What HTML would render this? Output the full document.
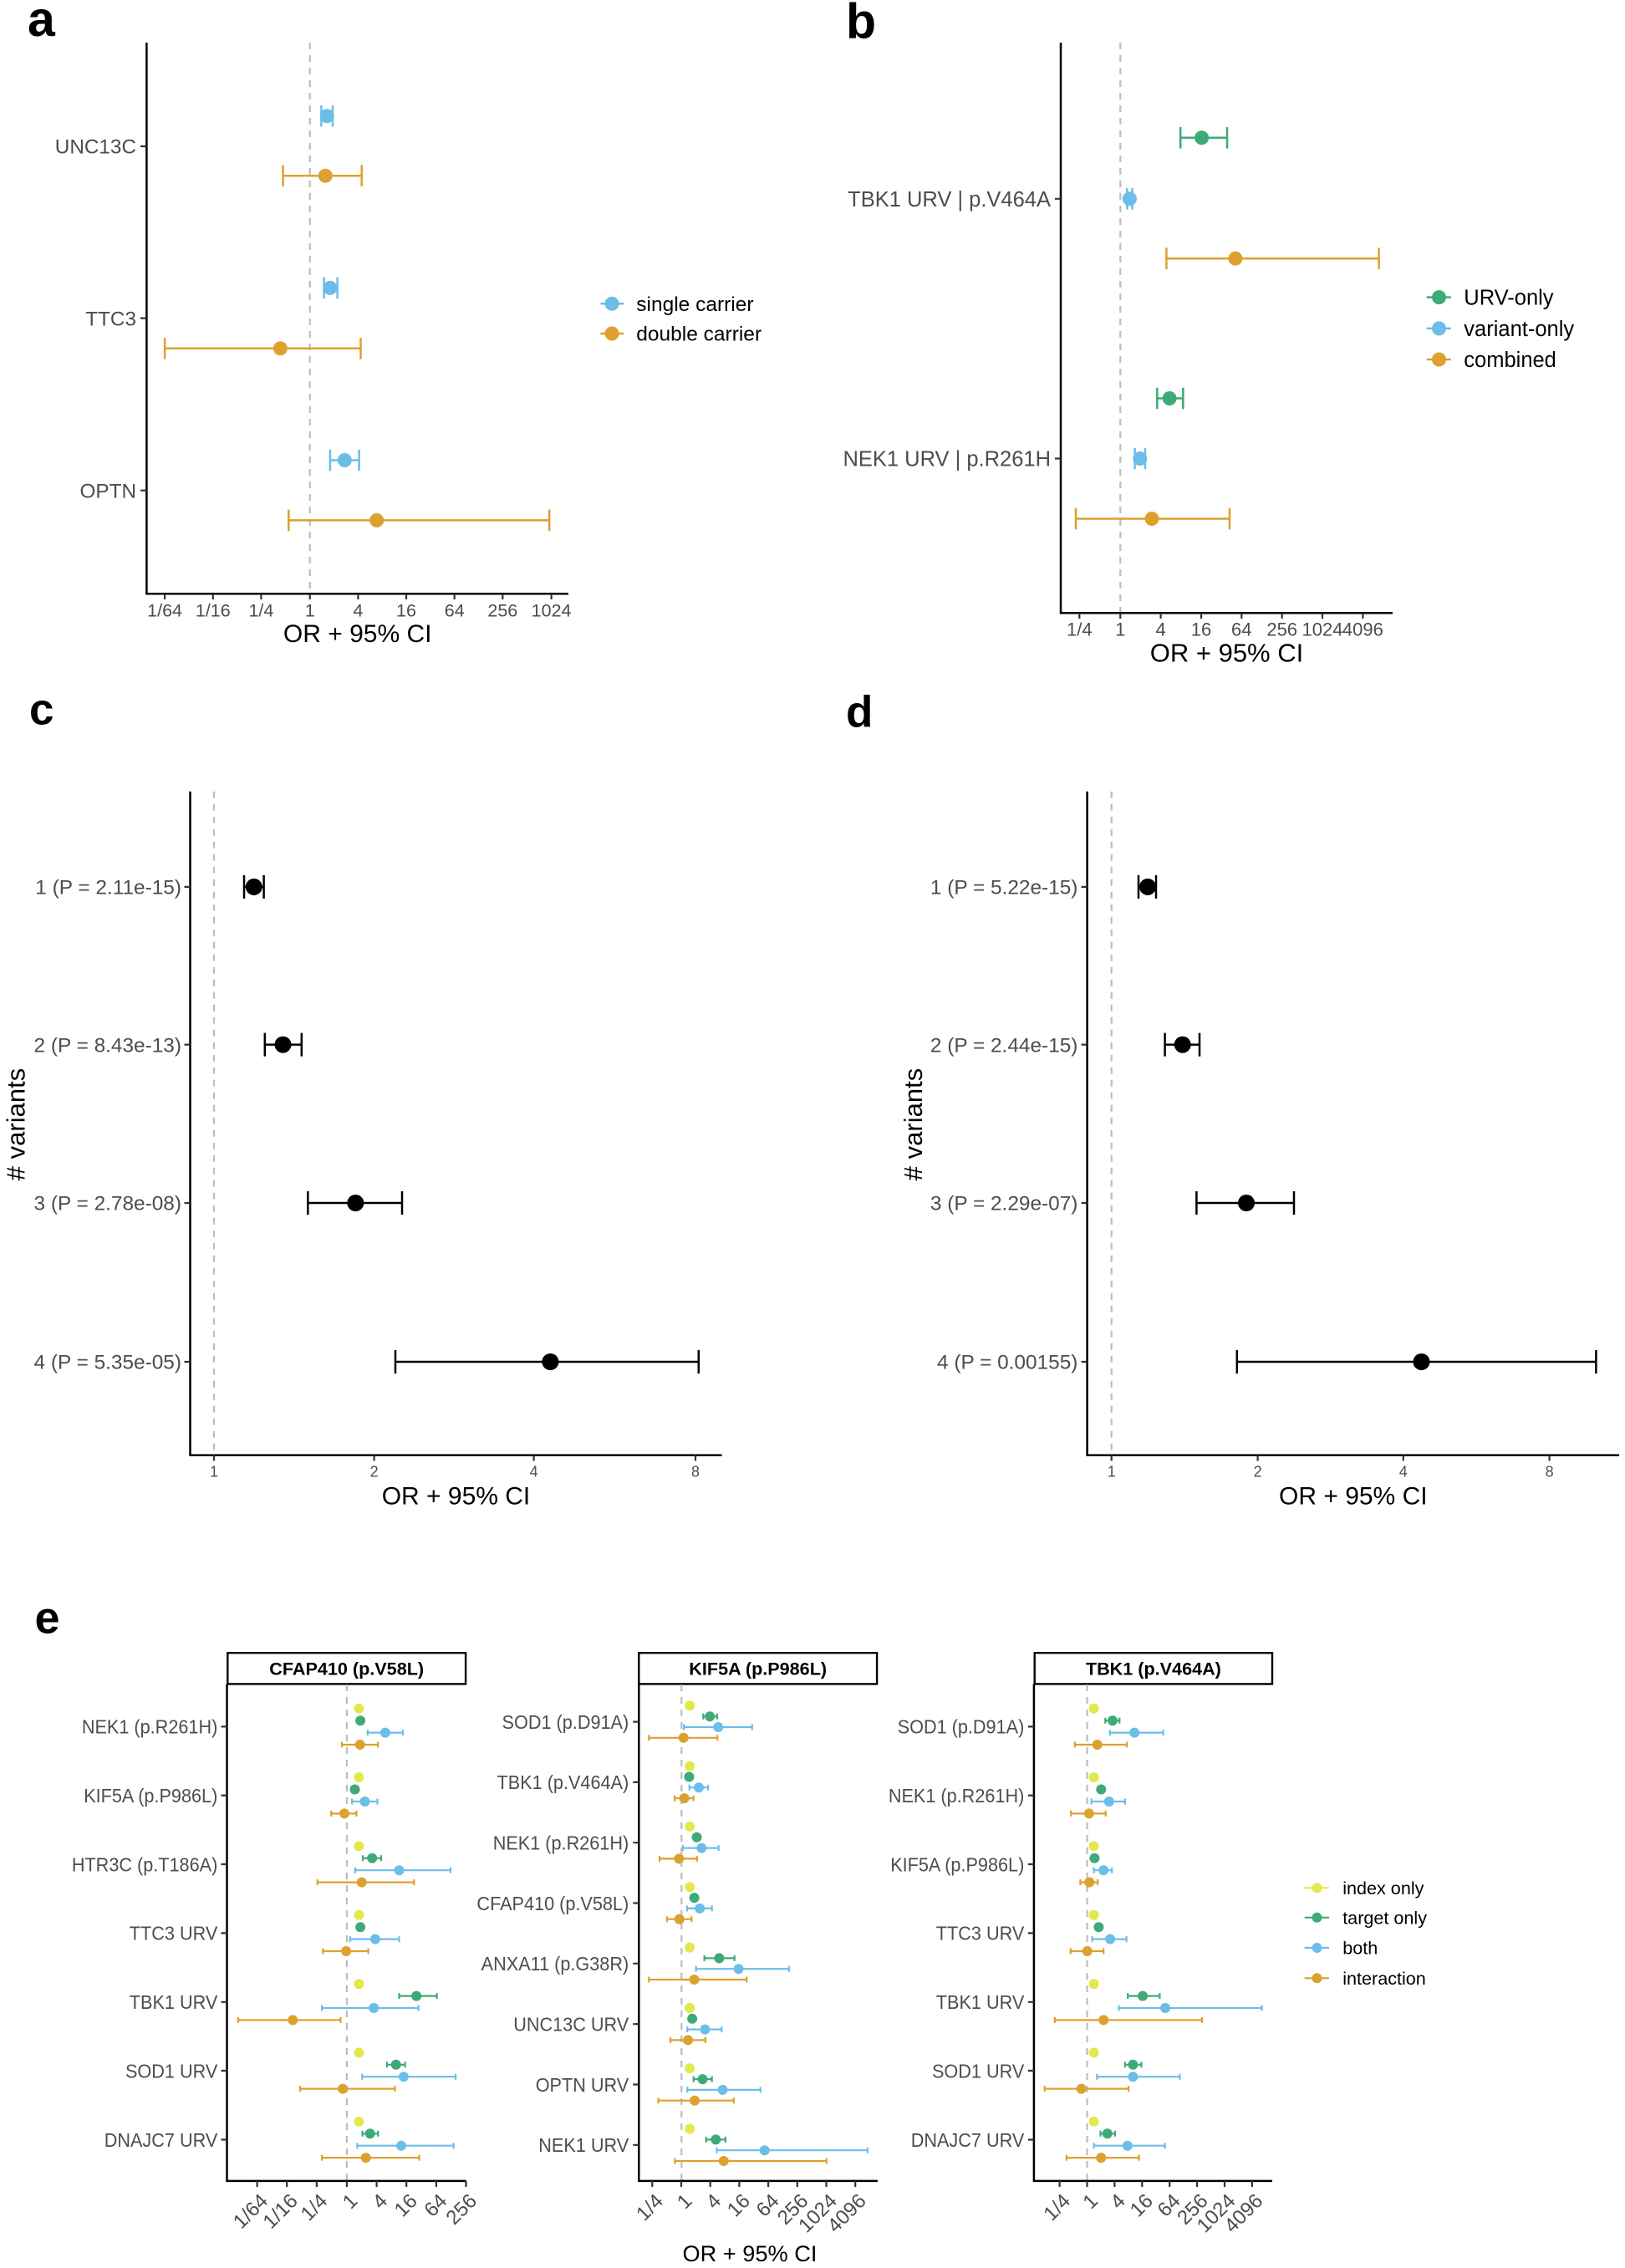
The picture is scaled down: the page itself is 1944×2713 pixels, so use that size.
<!DOCTYPE html>
<html>
<head>
<meta charset="utf-8">
<style>
html,body{margin:0;padding:0;background:#fff;}
svg{display:block;}
text{font-family:"Liberation Sans",Arial,Helvetica,sans-serif;}
.lab{fill:#4d4d4d;}
.ttl{fill:#000;}
.pl{font-weight:bold;fill:#000;}
.ax{stroke:#000;stroke-width:2.5;fill:none;}
.tk{stroke:#333;stroke-width:2.2;fill:none;}
.dash{stroke:#bdbdbd;stroke-width:2.2;stroke-dasharray:8 7;fill:none;}
.bl{stroke:#6CBDE8;fill:none;}
.or{stroke:#DCA12E;fill:none;}
.gr{stroke:#3DAA78;fill:none;}
.ye{stroke:#E3E84E;fill:none;}
.bk{stroke:#000;fill:none;}
</style>
</head>
<body>
<svg width="1944" height="2713" viewBox="0 0 1944 2713" xmlns="http://www.w3.org/2000/svg">
<rect x="0" y="0" width="1944" height="2713" fill="#fff"/>

<!-- ================= PANEL A ================= -->
<text class="pl" x="33" y="43" font-size="59">a</text>
<line class="dash" x1="370.7" y1="51" x2="370.7" y2="710"/>
<g stroke-width="2.5">
<path class="bl" d="M384.4 138.8H398M384.4 126V151.6M398 126V151.6"/>
<path class="or" d="M338.5 210.2H432.7M338.5 197.4V223M432.7 197.4V223"/>
<path class="bl" d="M387.5 344.4H403.6M387.5 331.6V357.2M403.6 331.6V357.2"/>
<path class="or" d="M197.1 416.8H431.5M197.1 404V429.6M431.5 404V429.6"/>
<path class="bl" d="M394.9 550.5H429.6M394.9 537.7V563.3M429.6 537.7V563.3"/>
<path class="or" d="M345.3 622.4H657.1M345.3 609.6V635.2M657.1 609.6V635.2"/>
</g>
<g>
<circle cx="391.2" cy="138.8" r="8.5" fill="#6CBDE8"/>
<circle cx="389.3" cy="210.2" r="8.5" fill="#DCA12E"/>
<circle cx="394.9" cy="344.4" r="8.5" fill="#6CBDE8"/>
<circle cx="335.4" cy="416.8" r="8.5" fill="#DCA12E"/>
<circle cx="412.3" cy="550.5" r="8.5" fill="#6CBDE8"/>
<circle cx="450.7" cy="622.4" r="8.5" fill="#DCA12E"/>
</g>
<path class="ax" d="M175.4 51V711.4M174.2 710.2H680"/>
<path class="tk" d="M168 175H175.4M168 380.6H175.4M168 586.7H175.4"/>
<path class="tk" d="M197.1 710.2V717M254.8 710.2V717M312.4 710.2V717M370.7 710.2V717M428.4 710.2V717M486 710.2V717M543.7 710.2V717M601.3 710.2V717M659.6 710.2V717"/>
<g class="lab" font-size="24.3" text-anchor="end">
<text x="163" y="183.7">UNC13C</text>
<text x="163" y="389.3">TTC3</text>
<text x="163" y="595.4">OPTN</text>
</g>
<g class="lab" font-size="21.5" text-anchor="middle">
<text x="197.1" y="737.5">1/64</text>
<text x="254.8" y="737.5">1/16</text>
<text x="312.4" y="737.5">1/4</text>
<text x="370.7" y="737.5">1</text>
<text x="428.4" y="737.5">4</text>
<text x="486" y="737.5">16</text>
<text x="543.7" y="737.5">64</text>
<text x="601.3" y="737.5">256</text>
<text x="659.6" y="737.5">1024</text>
</g>
<text class="ttl" x="427.7" y="768" font-size="30" text-anchor="middle">OR + 95% CI</text>
<!-- legend a -->
<path class="bl" stroke-width="2.5" d="M718.5 363.3H746.4"/>
<circle cx="732" cy="363.3" r="8.5" fill="#6CBDE8"/>
<path class="or" stroke-width="2.5" d="M718.5 399H746.4"/>
<circle cx="732" cy="399" r="8.5" fill="#DCA12E"/>
<text class="ttl" x="761.3" y="371.8" font-size="24.5">single carrier</text>
<text class="ttl" x="761.3" y="407.5" font-size="24.5">double carrier</text>

<!-- ================= PANEL B ================= -->
<text class="pl" x="1012" y="45.5" font-size="59">b</text>
<line class="dash" x1="1340.3" y1="51" x2="1340.3" y2="733"/>
<g stroke-width="2.5">
<path class="gr" d="M1412.2 164.8H1468M1412.2 152V177.6M1468 152V177.6"/>
<path class="bl" d="M1348.3 237.8H1354.5M1348.3 225V250.6M1354.5 225V250.6"/>
<path class="or" d="M1395.4 309.2H1649.6M1395.4 296.4V322M1649.6 296.4V322"/>
<path class="gr" d="M1384.3 476.5H1415.3M1384.3 463.7V489.3M1415.3 463.7V489.3"/>
<path class="bl" d="M1357.6 548.5H1370M1357.6 535.7V561.3M1370 535.7V561.3"/>
<path class="or" d="M1287 620.5H1471M1287 607.7V633.3M1471 607.7V633.3"/>
</g>
<circle cx="1437.6" cy="164.8" r="8.5" fill="#3DAA78"/>
<circle cx="1351.4" cy="237.8" r="8.5" fill="#6CBDE8"/>
<circle cx="1477.9" cy="309.2" r="8.5" fill="#DCA12E"/>
<circle cx="1399.1" cy="476.5" r="8.5" fill="#3DAA78"/>
<circle cx="1363.8" cy="548.5" r="8.5" fill="#6CBDE8"/>
<circle cx="1378" cy="620.5" r="8.5" fill="#DCA12E"/>
<path class="ax" d="M1269 51V734.4M1267.8 733.2H1666"/>
<path class="tk" d="M1262 237.8H1269M1262 548.5H1269"/>
<path class="tk" d="M1291.3 733.2V740M1340.3 733.2V740M1388.6 733.2V740M1437 733.2V740M1485.3 733.2V740M1533.7 733.2V740M1582 733.2V740M1630.4 733.2V740"/>
<g class="lab" font-size="25.5" text-anchor="end">
<text x="1257" y="246.9">TBK1 URV | p.V464A</text>
<text x="1257" y="557.6">NEK1 URV | p.R261H</text>
</g>
<g class="lab" font-size="22" text-anchor="middle">
<text x="1291.3" y="760.5">1/4</text>
<text x="1340.3" y="760.5">1</text>
<text x="1388.6" y="760.5">4</text>
<text x="1437" y="760.5">16</text>
<text x="1485.3" y="760.5">64</text>
<text x="1533.7" y="760.5">256</text>
<text x="1582" y="760.5">1024</text>
<text x="1630.4" y="760.5">4096</text>
</g>
<text class="ttl" x="1467.5" y="791.5" font-size="31" text-anchor="middle">OR + 95% CI</text>
<!-- legend b -->
<path class="gr" stroke-width="2.5" d="M1706.7 355.6H1735.8"/>
<circle cx="1721.5" cy="355.6" r="8.5" fill="#3DAA78"/>
<path class="bl" stroke-width="2.5" d="M1706.7 392.9H1735.8"/>
<circle cx="1721.5" cy="392.9" r="8.5" fill="#6CBDE8"/>
<path class="or" stroke-width="2.5" d="M1706.7 430H1735.8"/>
<circle cx="1721.5" cy="430" r="8.5" fill="#DCA12E"/>
<g class="ttl" font-size="25.5">
<text x="1751.3" y="364.6">URV-only</text>
<text x="1751.3" y="401.9">variant-only</text>
<text x="1751.3" y="439">combined</text>
</g>

<!-- ================= PANEL C ================= -->
<text class="pl" x="35" y="866.5" font-size="53">c</text>
<line class="dash" x1="256" y1="946.7" x2="256" y2="1740"/>
<g stroke-width="2.5">
<path class="bk" d="M292 1060.9H315.6M292 1046.9V1074.9M315.6 1046.9V1074.9"/>
<path class="bk" d="M316.8 1249.6H360.8M316.8 1235.6V1263.6M360.8 1235.6V1263.6"/>
<path class="bk" d="M368.3 1439H481M368.3 1425V1453M481 1425V1453"/>
<path class="bk" d="M473 1629H835.8M473 1615V1643M835.8 1615V1643"/>
</g>
<circle cx="303.8" cy="1060.9" r="10" fill="#000"/>
<circle cx="338.5" cy="1249.6" r="10" fill="#000"/>
<circle cx="425.3" cy="1439" r="10" fill="#000"/>
<circle cx="658.4" cy="1629" r="10" fill="#000"/>
<path class="ax" d="M227.5 946.7V1742M226.3 1740.7H863.6"/>
<path class="tk" d="M220.5 1060.9H227.5M220.5 1249.6H227.5M220.5 1439H227.5M220.5 1629H227.5"/>
<path class="tk" d="M256 1740.7V1747.5M447.6 1740.7V1747.5M638.6 1740.7V1747.5M832 1740.7V1747.5"/>
<g class="lab" font-size="24.4" text-anchor="end">
<text x="217" y="1069.6">1 (P = 2.11e-15)</text>
<text x="217" y="1258.3">2 (P = 8.43e-13)</text>
<text x="217" y="1447.7">3 (P = 2.78e-08)</text>
<text x="217" y="1637.7">4 (P = 5.35e-05)</text>
</g>
<g class="lab" font-size="18" text-anchor="middle">
<text x="256" y="1766.5">1</text>
<text x="447.6" y="1766.5">2</text>
<text x="638.6" y="1766.5">4</text>
<text x="832" y="1766.5">8</text>
</g>
<text class="ttl" x="545.5" y="1799.3" font-size="30" text-anchor="middle">OR + 95% CI</text>
<text class="ttl" transform="translate(29.5,1345) rotate(-90)" font-size="31" text-anchor="middle"># variants</text>

<!-- ================= PANEL D ================= -->
<text class="pl" x="1012" y="869.5" font-size="53">d</text>
<line class="dash" x1="1329.7" y1="946.7" x2="1329.7" y2="1740"/>
<g stroke-width="2.5">
<path class="bk" d="M1362 1060.9H1383M1362 1046.9V1074.9M1383 1046.9V1074.9"/>
<path class="bk" d="M1393.6 1249.6H1435M1393.6 1235.6V1263.6M1435 1235.6V1263.6"/>
<path class="bk" d="M1431.4 1439H1548M1431.4 1425V1453M1548 1425V1453"/>
<path class="bk" d="M1479.8 1629H1909.4M1479.8 1615V1643M1909.4 1615V1643"/>
</g>
<circle cx="1373" cy="1060.9" r="10" fill="#000"/>
<circle cx="1414.7" cy="1249.6" r="10" fill="#000"/>
<circle cx="1491" cy="1439" r="10" fill="#000"/>
<circle cx="1700.5" cy="1629" r="10" fill="#000"/>
<path class="ax" d="M1300.6 946.7V1742M1299.4 1740.7H1937"/>
<path class="tk" d="M1293.6 1060.9H1300.6M1293.6 1249.6H1300.6M1293.6 1439H1300.6M1293.6 1629H1300.6"/>
<path class="tk" d="M1329.7 1740.7V1747.5M1504.6 1740.7V1747.5M1678.8 1740.7V1747.5M1853.6 1740.7V1747.5"/>
<g class="lab" font-size="24.4" text-anchor="end">
<text x="1289.4" y="1069.6">1 (P = 5.22e-15)</text>
<text x="1289.4" y="1258.3">2 (P = 2.44e-15)</text>
<text x="1289.4" y="1447.7">3 (P = 2.29e-07)</text>
<text x="1289.4" y="1637.7">4 (P = 0.00155)</text>
</g>
<g class="lab" font-size="18" text-anchor="middle">
<text x="1329.7" y="1766.5">1</text>
<text x="1504.6" y="1766.5">2</text>
<text x="1678.8" y="1766.5">4</text>
<text x="1853.6" y="1766.5">8</text>
</g>
<text class="ttl" x="1618.8" y="1799.3" font-size="30" text-anchor="middle">OR + 95% CI</text>
<text class="ttl" transform="translate(1103,1345) rotate(-90)" font-size="31" text-anchor="middle"># variants</text>

<!-- ================= PANEL E ================= -->
<text class="pl" x="41.5" y="1953.5" font-size="54">e</text>

<!-- strips -->
<rect x="272.3" y="1977.2" width="284.8" height="37.2" fill="#fff" stroke="#000" stroke-width="2.4"/>
<rect x="764.3" y="1977.2" width="284.8" height="37.2" fill="#fff" stroke="#000" stroke-width="2.4"/>
<rect x="1237.7" y="1977.2" width="284.3" height="37.2" fill="#fff" stroke="#000" stroke-width="2.4"/>
<g class="ttl" font-size="21.6" font-weight="bold" text-anchor="middle">
<text x="414.7" y="2003.5">CFAP410 (p.V58L)</text>
<text x="906.7" y="2003.5">KIF5A (p.P986L)</text>
<text x="1379.9" y="2003.5">TBK1 (p.V464A)</text>
</g>

<!-- dashed -->
<line class="dash" x1="414.9" y1="2015" x2="414.9" y2="2608"/>
<line class="dash" x1="815.3" y1="2015" x2="815.3" y2="2608"/>
<line class="dash" x1="1300.6" y1="2015" x2="1300.6" y2="2608"/>

<!-- facet 1 data -->
<g stroke-width="2.2">
<path class="gr" d="M426 2058.2H436"/>
<path class="bl" d="M439.8 2072.6H482M439.8 2069.1V2076.1M482 2069.1V2076.1"/>
<path class="or" d="M409.1 2087H452.2M409.1 2083.5V2090.5M452.2 2083.5V2090.5"/>
<path class="bl" d="M421.1 2154.95H451.4M421.1 2151.45V2158.45M451.4 2151.45V2158.45"/>
<path class="or" d="M396.3 2169.35H426.5M396.3 2165.85V2172.85M426.5 2165.85V2172.85"/>
<path class="gr" d="M434 2222.8H456M434 2219.3V2226.3M456 2219.3V2226.3"/>
<path class="bl" d="M424.9 2237.2H538.9M424.9 2233.7V2240.7M538.9 2233.7V2240.7"/>
<path class="or" d="M379.7 2251.6H495.3M379.7 2248.1V2255.1M495.3 2248.1V2255.1"/>
<path class="bl" d="M418.7 2319.6H477.5M418.7 2316.1V2323.1M477.5 2316.1V2323.1"/>
<path class="or" d="M386.3 2334H440.6M386.3 2330.5V2337.5M440.6 2330.5V2337.5"/>
<path class="gr" d="M477.5 2387.6H522.7M477.5 2384.1V2391.1M522.7 2384.1V2391.1"/>
<path class="bl" d="M385.1 2402H500.7M385.1 2398.5V2405.5M500.7 2398.5V2405.5"/>
<path class="or" d="M284.8 2416.4H407.5M284.8 2412.9V2419.9M407.5 2412.9V2419.9"/>
<path class="gr" d="M463 2469.8H484.6M463 2466.3V2473.3M484.6 2466.3V2473.3"/>
<path class="bl" d="M433.2 2484.2H545.1M433.2 2480.7V2487.7M545.1 2480.7V2487.7"/>
<path class="or" d="M359 2498.6H472.5M359 2495.1V2502.1M472.5 2495.1V2502.1"/>
<path class="gr" d="M433.6 2552.3H452.2M433.6 2548.8V2555.8M452.2 2548.8V2555.8"/>
<path class="bl" d="M427.4 2566.7H542.6M427.4 2563.2V2570.2M542.6 2563.2V2570.2"/>
<path class="or" d="M385.1 2581.1H501.6M385.1 2577.6V2584.6M501.6 2577.6V2584.6"/>
</g>
<g>
<circle cx="429.4" cy="2043.8" r="6" fill="#E3E84E"/>
<circle cx="431.1" cy="2058.2" r="6" fill="#3DAA78"/>
<circle cx="460.9" cy="2072.6" r="6" fill="#6CBDE8"/>
<circle cx="430.7" cy="2087" r="6" fill="#DCA12E"/>
<circle cx="429.4" cy="2126.15" r="6" fill="#E3E84E"/>
<circle cx="424.5" cy="2140.55" r="6" fill="#3DAA78"/>
<circle cx="436.5" cy="2154.95" r="6" fill="#6CBDE8"/>
<circle cx="412" cy="2169.35" r="6" fill="#DCA12E"/>
<circle cx="429.4" cy="2208.4" r="6" fill="#E3E84E"/>
<circle cx="445.2" cy="2222.8" r="6" fill="#3DAA78"/>
<circle cx="477.5" cy="2237.2" r="6" fill="#6CBDE8"/>
<circle cx="432.7" cy="2251.6" r="6" fill="#DCA12E"/>
<circle cx="429.4" cy="2290.8" r="6" fill="#E3E84E"/>
<circle cx="431.1" cy="2305.2" r="6" fill="#3DAA78"/>
<circle cx="448.9" cy="2319.6" r="6" fill="#6CBDE8"/>
<circle cx="414.1" cy="2334" r="6" fill="#DCA12E"/>
<circle cx="429.4" cy="2373.2" r="6" fill="#E3E84E"/>
<circle cx="498.2" cy="2387.6" r="6" fill="#3DAA78"/>
<circle cx="447.2" cy="2402" r="6" fill="#6CBDE8"/>
<circle cx="350.3" cy="2416.4" r="6" fill="#DCA12E"/>
<circle cx="429.4" cy="2455.4" r="6" fill="#E3E84E"/>
<circle cx="473.8" cy="2469.8" r="6" fill="#3DAA78"/>
<circle cx="482.9" cy="2484.2" r="6" fill="#6CBDE8"/>
<circle cx="410" cy="2498.6" r="6" fill="#DCA12E"/>
<circle cx="429.4" cy="2537.9" r="6" fill="#E3E84E"/>
<circle cx="442.7" cy="2552.3" r="6" fill="#3DAA78"/>
<circle cx="480" cy="2566.7" r="6" fill="#6CBDE8"/>
<circle cx="437.7" cy="2581.1" r="6" fill="#DCA12E"/>
</g>

<!-- facet 2 data -->
<g stroke-width="2.2">
<path class="gr" d="M841.3 2053.2H857.9M841.3 2049.7V2056.7M857.9 2049.7V2056.7"/>
<path class="bl" d="M818.1 2066H899.8M818.1 2062.5V2069.5M899.8 2062.5V2069.5"/>
<path class="or" d="M776.3 2078.8H858.3M776.3 2075.3V2082.3M858.3 2075.3V2082.3"/>
<path class="bl" d="M824.8 2138.3H847.1M824.8 2134.8V2141.8M847.1 2134.8V2141.8"/>
<path class="or" d="M807 2151.1H829.7M807 2147.6V2154.6M829.7 2147.6V2154.6"/>
<path class="bl" d="M816.9 2210.6H859.6M816.9 2207.1V2214.1M859.6 2207.1V2214.1"/>
<path class="or" d="M789.1 2223.4H833.9M789.1 2219.9V2226.9M833.9 2219.9V2226.9"/>
<path class="bl" d="M821.9 2282.9H851.7M821.9 2279.4V2286.4M851.7 2279.4V2286.4"/>
<path class="or" d="M797.8 2295.7H827.3M797.8 2292.2V2299.2M827.3 2292.2V2299.2"/>
<path class="gr" d="M842.6 2342.4H878.7M842.6 2338.9V2345.9M878.7 2338.9V2345.9"/>
<path class="bl" d="M832.6 2355.2H944.1M832.6 2351.7V2358.7M944.1 2351.7V2358.7"/>
<path class="or" d="M776.3 2368H893.2M776.3 2364.5V2371.5M893.2 2364.5V2371.5"/>
<path class="bl" d="M822.3 2427.6H863.3M822.3 2424.1V2431.1M863.3 2424.1V2431.1"/>
<path class="or" d="M802 2440.4H843.8M802 2436.9V2443.9M843.8 2436.9V2443.9"/>
<path class="gr" d="M829.7 2487.1H851.7M829.7 2483.6V2490.6M851.7 2483.6V2490.6"/>
<path class="bl" d="M822.3 2499.9H909.7M822.3 2496.4V2503.4M909.7 2496.4V2503.4"/>
<path class="or" d="M787.5 2512.7H877.8M787.5 2509.2V2516.2M877.8 2509.2V2516.2"/>
<path class="gr" d="M844.7 2559.4H867.9M844.7 2555.9V2562.9M867.9 2555.9V2562.9"/>
<path class="bl" d="M857.5 2572.2H1037.8M857.5 2568.7V2575.7M1037.8 2568.7V2575.7"/>
<path class="or" d="M807.4 2585H988.9M807.4 2581.5V2588.5M988.9 2581.5V2588.5"/>
</g>
<g>
<circle cx="825.2" cy="2040.4" r="6" fill="#E3E84E"/>
<circle cx="849.2" cy="2053.2" r="6" fill="#3DAA78"/>
<circle cx="859.2" cy="2066" r="6" fill="#6CBDE8"/>
<circle cx="817.7" cy="2078.8" r="6" fill="#DCA12E"/>
<circle cx="825.2" cy="2112.7" r="6" fill="#E3E84E"/>
<circle cx="824.4" cy="2125.5" r="6" fill="#3DAA78"/>
<circle cx="836" cy="2138.3" r="6" fill="#6CBDE8"/>
<circle cx="818.6" cy="2151.1" r="6" fill="#DCA12E"/>
<circle cx="825.2" cy="2185" r="6" fill="#E3E84E"/>
<circle cx="833.5" cy="2197.8" r="6" fill="#3DAA78"/>
<circle cx="839.3" cy="2210.6" r="6" fill="#6CBDE8"/>
<circle cx="812.3" cy="2223.4" r="6" fill="#DCA12E"/>
<circle cx="825.2" cy="2257.3" r="6" fill="#E3E84E"/>
<circle cx="830.6" cy="2270.1" r="6" fill="#3DAA78"/>
<circle cx="837.2" cy="2282.9" r="6" fill="#6CBDE8"/>
<circle cx="812.7" cy="2295.7" r="6" fill="#DCA12E"/>
<circle cx="825.2" cy="2329.6" r="6" fill="#E3E84E"/>
<circle cx="860.4" cy="2342.4" r="6" fill="#3DAA78"/>
<circle cx="883.6" cy="2355.2" r="6" fill="#6CBDE8"/>
<circle cx="830.6" cy="2368" r="6" fill="#DCA12E"/>
<circle cx="825.2" cy="2402" r="6" fill="#E3E84E"/>
<circle cx="828.1" cy="2414.8" r="6" fill="#3DAA78"/>
<circle cx="843.4" cy="2427.6" r="6" fill="#6CBDE8"/>
<circle cx="823.1" cy="2440.4" r="6" fill="#DCA12E"/>
<circle cx="825.2" cy="2474.3" r="6" fill="#E3E84E"/>
<circle cx="840.5" cy="2487.1" r="6" fill="#3DAA78"/>
<circle cx="864.6" cy="2499.9" r="6" fill="#6CBDE8"/>
<circle cx="831" cy="2512.7" r="6" fill="#DCA12E"/>
<circle cx="825.2" cy="2546.6" r="6" fill="#E3E84E"/>
<circle cx="856.3" cy="2559.4" r="6" fill="#3DAA78"/>
<circle cx="914.7" cy="2572.2" r="6" fill="#6CBDE8"/>
<circle cx="865.8" cy="2585" r="6" fill="#DCA12E"/>
</g>

<!-- facet 3 data -->
<g stroke-width="2.2">
<path class="gr" d="M1322.3 2058.2H1339.3M1322.3 2054.7V2061.7M1339.3 2054.7V2061.7"/>
<path class="bl" d="M1327.7 2072.6H1391.5M1327.7 2069.1V2076.1M1391.5 2069.1V2076.1"/>
<path class="or" d="M1285.8 2087H1348M1285.8 2083.5V2090.5M1348 2083.5V2090.5"/>
<path class="bl" d="M1305.7 2154.95H1345.9M1305.7 2151.45V2158.45M1345.9 2151.45V2158.45"/>
<path class="or" d="M1281.2 2169.35H1322.7M1281.2 2165.85V2172.85M1322.7 2165.85V2172.85"/>
<path class="bl" d="M1308.6 2237.2H1330.2M1308.6 2233.7V2240.7M1330.2 2233.7V2240.7"/>
<path class="or" d="M1292.4 2251.6H1313.2M1292.4 2248.1V2255.1M1313.2 2248.1V2255.1"/>
<path class="bl" d="M1306.5 2319.6H1347.6M1306.5 2316.1V2323.1M1347.6 2316.1V2323.1"/>
<path class="or" d="M1280.8 2334H1320.2M1280.8 2330.5V2337.5M1320.2 2330.5V2337.5"/>
<path class="gr" d="M1349.2 2387.6H1387.4M1349.2 2384.1V2391.1M1387.4 2384.1V2391.1"/>
<path class="bl" d="M1338.4 2402H1509.6M1338.4 2398.5V2405.5M1509.6 2398.5V2405.5"/>
<path class="or" d="M1261.8 2416.4H1437.9M1261.8 2412.9V2419.9M1437.9 2412.9V2419.9"/>
<path class="gr" d="M1345.9 2469.8H1365.4M1345.9 2466.3V2473.3M1365.4 2466.3V2473.3"/>
<path class="bl" d="M1312.3 2484.2H1411.4M1312.3 2480.7V2487.7M1411.4 2480.7V2487.7"/>
<path class="or" d="M1249.7 2498.6H1350.1M1249.7 2495.1V2502.1M1350.1 2495.1V2502.1"/>
<path class="gr" d="M1316.5 2552.3H1333.9M1316.5 2548.8V2555.8M1333.9 2548.8V2555.8"/>
<path class="bl" d="M1308.6 2566.7H1393.6M1308.6 2563.2V2570.2M1393.6 2563.2V2570.2"/>
<path class="or" d="M1275.9 2581.1H1362.5M1275.9 2577.6V2584.6M1362.5 2577.6V2584.6"/>
</g>
<g>
<circle cx="1308.6" cy="2043.8" r="6" fill="#E3E84E"/>
<circle cx="1331" cy="2058.2" r="6" fill="#3DAA78"/>
<circle cx="1357.1" cy="2072.6" r="6" fill="#6CBDE8"/>
<circle cx="1312.7" cy="2087" r="6" fill="#DCA12E"/>
<circle cx="1308.6" cy="2126.15" r="6" fill="#E3E84E"/>
<circle cx="1317.3" cy="2140.55" r="6" fill="#3DAA78"/>
<circle cx="1326.8" cy="2154.95" r="6" fill="#6CBDE8"/>
<circle cx="1302.8" cy="2169.35" r="6" fill="#DCA12E"/>
<circle cx="1308.6" cy="2208.4" r="6" fill="#E3E84E"/>
<circle cx="1309.4" cy="2222.8" r="6" fill="#3DAA78"/>
<circle cx="1320.2" cy="2237.2" r="6" fill="#6CBDE8"/>
<circle cx="1303.2" cy="2251.6" r="6" fill="#DCA12E"/>
<circle cx="1308.6" cy="2290.8" r="6" fill="#E3E84E"/>
<circle cx="1314.4" cy="2305.2" r="6" fill="#3DAA78"/>
<circle cx="1328.1" cy="2319.6" r="6" fill="#6CBDE8"/>
<circle cx="1300.7" cy="2334" r="6" fill="#DCA12E"/>
<circle cx="1308.6" cy="2373.2" r="6" fill="#E3E84E"/>
<circle cx="1367" cy="2387.6" r="6" fill="#3DAA78"/>
<circle cx="1394" cy="2402" r="6" fill="#6CBDE8"/>
<circle cx="1320.2" cy="2416.4" r="6" fill="#DCA12E"/>
<circle cx="1308.6" cy="2455.4" r="6" fill="#E3E84E"/>
<circle cx="1355.4" cy="2469.8" r="6" fill="#3DAA78"/>
<circle cx="1355.4" cy="2484.2" r="6" fill="#6CBDE8"/>
<circle cx="1293.7" cy="2498.6" r="6" fill="#DCA12E"/>
<circle cx="1308.6" cy="2537.9" r="6" fill="#E3E84E"/>
<circle cx="1324.8" cy="2552.3" r="6" fill="#3DAA78"/>
<circle cx="1348.8" cy="2566.7" r="6" fill="#6CBDE8"/>
<circle cx="1317.3" cy="2581.1" r="6" fill="#DCA12E"/>
</g>

<!-- facet axes -->
<path class="ax" d="M271.5 2014.4V2610.1M270.3 2608.9H557.5"/>
<path class="ax" d="M764.3 2014.4V2610.1M763.1 2608.9H1049.9"/>
<path class="ax" d="M1236.9 2014.4V2610.1M1235.7 2608.9H1522"/>
<path class="tk" d="M264.5 2065.4H271.5M264.5 2147.75H271.5M264.5 2230H271.5M264.5 2312.4H271.5M264.5 2394.8H271.5M264.5 2477H271.5M264.5 2559.5H271.5"/>
<path class="tk" d="M757.3 2059.6H764.3M757.3 2131.9H764.3M757.3 2204.2H764.3M757.3 2276.5H764.3M757.3 2348.8H764.3M757.3 2421.2H764.3M757.3 2493.5H764.3M757.3 2565.8H764.3"/>
<path class="tk" d="M1229.9 2065.4H1236.9M1229.9 2147.75H1236.9M1229.9 2230H1236.9M1229.9 2312.4H1236.9M1229.9 2394.8H1236.9M1229.9 2477H1236.9M1229.9 2559.5H1236.9"/>
<path class="tk" d="M307.6 2608.9V2616M343.2 2608.9V2616M378.9 2608.9V2616M414.9 2608.9V2616M450.6 2608.9V2616M486.2 2608.9V2616M521.9 2608.9V2616M557.5 2608.9V2616"/>
<path class="tk" d="M780.3 2608.9V2616M815 2608.9V2616M849.7 2608.9V2616M884.4 2608.9V2616M919.1 2608.9V2616M953.8 2608.9V2616M988.5 2608.9V2616M1023.2 2608.9V2616"/>
<path class="tk" d="M1267.6 2608.9V2616M1300.5 2608.9V2616M1333.4 2608.9V2616M1366.3 2608.9V2616M1399.2 2608.9V2616M1432.1 2608.9V2616M1465 2608.9V2616M1497.9 2608.9V2616"/>

<!-- facet y labels -->
<g class="lab" font-size="23.3" text-anchor="end">
<text transform="translate(260.3,2073.7) scale(0.93,1)">NEK1 (p.R261H)</text>
<text transform="translate(260.3,2156.05) scale(0.93,1)">KIF5A (p.P986L)</text>
<text transform="translate(260.3,2238.3) scale(0.93,1)">HTR3C (p.T186A)</text>
<text transform="translate(260.3,2320.7) scale(0.93,1)">TTC3 URV</text>
<text transform="translate(260.3,2403.1) scale(0.93,1)">TBK1 URV</text>
<text transform="translate(260.3,2485.3) scale(0.93,1)">SOD1 URV</text>
<text transform="translate(260.3,2567.8) scale(0.93,1)">DNAJC7 URV</text>

<text transform="translate(752.2,2067.9) scale(0.93,1)">SOD1 (p.D91A)</text>
<text transform="translate(752.2,2140.2) scale(0.93,1)">TBK1 (p.V464A)</text>
<text transform="translate(752.2,2212.5) scale(0.93,1)">NEK1 (p.R261H)</text>
<text transform="translate(752.2,2284.8) scale(0.93,1)">CFAP410 (p.V58L)</text>
<text transform="translate(752.2,2357.1) scale(0.93,1)">ANXA11 (p.G38R)</text>
<text transform="translate(752.2,2429.5) scale(0.93,1)">UNC13C URV</text>
<text transform="translate(752.2,2501.8) scale(0.93,1)">OPTN URV</text>
<text transform="translate(752.2,2574.1) scale(0.93,1)">NEK1 URV</text>

<text transform="translate(1225.3,2073.7) scale(0.93,1)">SOD1 (p.D91A)</text>
<text transform="translate(1225.3,2156.05) scale(0.93,1)">NEK1 (p.R261H)</text>
<text transform="translate(1225.3,2238.3) scale(0.93,1)">KIF5A (p.P986L)</text>
<text transform="translate(1225.3,2320.7) scale(0.93,1)">TTC3 URV</text>
<text transform="translate(1225.3,2403.1) scale(0.93,1)">TBK1 URV</text>
<text transform="translate(1225.3,2485.3) scale(0.93,1)">SOD1 URV</text>
<text transform="translate(1225.3,2567.8) scale(0.93,1)">DNAJC7 URV</text>
</g>

<!-- facet x tick labels (rotated) -->
<g class="lab" font-size="24" text-anchor="end">
<text transform="translate(309.6,2622) rotate(-45)" dy="0.72em">1/64</text>
<text transform="translate(345.2,2622) rotate(-45)" dy="0.72em">1/16</text>
<text transform="translate(380.9,2622) rotate(-45)" dy="0.72em">1/4</text>
<text transform="translate(416.9,2622) rotate(-45)" dy="0.72em">1</text>
<text transform="translate(452.6,2622) rotate(-45)" dy="0.72em">4</text>
<text transform="translate(488.2,2622) rotate(-45)" dy="0.72em">16</text>
<text transform="translate(523.9,2622) rotate(-45)" dy="0.72em">64</text>
<text transform="translate(559.5,2622) rotate(-45)" dy="0.72em">256</text>

<text transform="translate(782.3,2622) rotate(-45)" dy="0.72em">1/4</text>
<text transform="translate(817,2622) rotate(-45)" dy="0.72em">1</text>
<text transform="translate(851.7,2622) rotate(-45)" dy="0.72em">4</text>
<text transform="translate(886.4,2622) rotate(-45)" dy="0.72em">16</text>
<text transform="translate(921.1,2622) rotate(-45)" dy="0.72em">64</text>
<text transform="translate(955.8,2622) rotate(-45)" dy="0.72em">256</text>
<text transform="translate(990.5,2622) rotate(-45)" dy="0.72em">1024</text>
<text transform="translate(1025.2,2622) rotate(-45)" dy="0.72em">4096</text>

<text transform="translate(1269.6,2622) rotate(-45)" dy="0.72em">1/4</text>
<text transform="translate(1302.5,2622) rotate(-45)" dy="0.72em">1</text>
<text transform="translate(1335.4,2622) rotate(-45)" dy="0.72em">4</text>
<text transform="translate(1368.3,2622) rotate(-45)" dy="0.72em">16</text>
<text transform="translate(1401.2,2622) rotate(-45)" dy="0.72em">64</text>
<text transform="translate(1434.1,2622) rotate(-45)" dy="0.72em">256</text>
<text transform="translate(1467,2622) rotate(-45)" dy="0.72em">1024</text>
<text transform="translate(1499.9,2622) rotate(-45)" dy="0.72em">4096</text>
</g>

<text class="ttl" x="897" y="2705" font-size="27.2" text-anchor="middle">OR + 95% CI</text>

<!-- legend e -->
<path class="ye" stroke-width="2.2" d="M1560.7 2258.3H1590"/>
<circle cx="1575.5" cy="2258.3" r="6" fill="#E3E84E"/>
<path class="gr" stroke-width="2.2" d="M1560.7 2293.8H1590"/>
<circle cx="1575.5" cy="2293.8" r="6" fill="#3DAA78"/>
<path class="bl" stroke-width="2.2" d="M1560.7 2330H1590"/>
<circle cx="1575.5" cy="2330" r="6" fill="#6CBDE8"/>
<path class="or" stroke-width="2.2" d="M1560.7 2366.3H1590"/>
<circle cx="1575.5" cy="2366.3" r="6" fill="#DCA12E"/>
<g class="ttl" font-size="21.6">
<text x="1606.2" y="2265.9">index only</text>
<text x="1606.2" y="2301.4">target only</text>
<text x="1606.2" y="2337.6">both</text>
<text x="1606.2" y="2373.9">interaction</text>
</g>
</svg>
</body>
</html>
